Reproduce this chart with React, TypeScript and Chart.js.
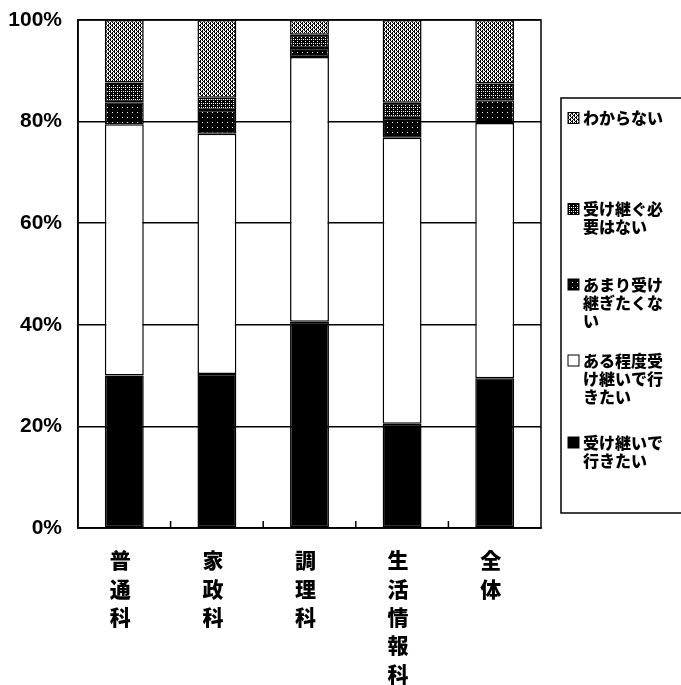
import React, { useEffect, useRef } from 'react';
import { Chart, registerables } from 'chart.js';
Chart.register(...registerables);

const categories = ['普通科', '家政科', '調理科', '生活情報科', '全体'];
const seriesNames = ['受け継いで行きたい', 'ある程度受け継いで行きたい', 'あまり受け継ぎたくない', '受け継ぐ必要はない', 'わからない'];
const ukeTsugitai = [30.0, 30.3, 40.6, 20.5, 29.5];
const aruTeido = [49.5, 47.3, 52.1, 56.3, 50.2];
const amari = [4.3, 4.7, 1.8, 3.9, 4.5];
const hitsuyouNai = [3.9, 2.4, 2.6, 3.0, 3.3];
const wakaranai = [12.3, 15.3, 2.9, 16.3, 12.5];
const yTicks = [0, 20, 40, 60, 80, 100];
const legendLabels = [
  ['わからない'],
  ['受け継ぐ必', '要はない'],
  ['あまり受け', '継ぎたくな', 'い'],
  ['ある程度受', 'け継いで行', 'きたい'],
  ['受け継いで', '行きたい'],
];

function makePattern(size: number, bg: string, fg: string, pts: number[][]) {
  const c = document.createElement('canvas');
  c.width = size;
  c.height = size;
  const x = c.getContext('2d')!;
  x.fillStyle = bg;
  x.fillRect(0, 0, size, size);
  x.fillStyle = fg;
  pts.forEach(([a, b]) => x.fillRect(a, b, 1, 1));
  return x.createPattern(c, 'repeat')!;
}

export default function App() {
  const ref = useRef<HTMLCanvasElement>(null);
  useEffect(() => {
    const ctx = ref.current!.getContext('2d')!;
    const patLight = makePattern(4, '#ffffff', '#000000', [[0, 0], [0, 1], [0, 2], [2, 0], [2, 2], [2, 3], [1, 3], [3, 1]]);
    const patMid = makePattern(4, '#000000', '#ffffff', [[1, 1], [3, 3], [1, 3]]);
    const patDark = makePattern(5, '#000000', '#ffffff', [[2, 2]]);
    const fills: any[] = ['#000000', '#ffffff', patDark, patMid, patLight];
    const values = [ukeTsugitai, aruTeido, amari, hitsuyouNai, wakaranai];

    const framePlugin = {
      id: 'frame',
      afterDraw(chart: any) {
        const c = chart.ctx;
        const a = chart.chartArea;
        c.save();
        c.strokeStyle = '#000';
        c.lineWidth = 1.5;
        c.strokeRect(a.left, a.top, a.right - a.left, a.bottom - a.top);
        const w = (a.right - a.left) / categories.length;
        c.beginPath();
        for (let i = 1; i < categories.length; i++) {
          const x = a.left + i * w;
          c.moveTo(x, a.bottom);
          c.lineTo(x, a.bottom - 7);
        }
        c.stroke();

        // legend box
        const bx = 561, by = 98, bw = 140, bh = 415;
        c.lineWidth = 1.5;
        c.strokeRect(bx, by, bw, bh);
        const firstY = [118, 209, 284.5, 360.5, 442.5];
        const order = [4, 3, 2, 1, 0];
        c.font = '900 16px "Noto Sans CJK JP"';
        c.textBaseline = 'middle';
        c.textAlign = 'left';
        order.forEach((si, k) => {
          const y0 = firstY[k];
          c.fillStyle = fills[si];
          c.fillRect(568, y0 - 5.5, 11, 11);
          c.lineWidth = 1;
          c.strokeRect(568, y0 - 5.5, 11, 11);
          c.fillStyle = '#000';
          legendLabels[k].forEach((t, j) => c.fillText(t, 583, y0 + j * 18));
        });
        c.restore();
      },
    };

    const chart = new Chart(ctx, {
      type: 'bar',
      data: {
        labels: categories,
        datasets: seriesNames.map((name, i) => ({
          label: name,
          data: values[i],
          backgroundColor: fills[i],
          borderColor: '#000',
          borderWidth: 1.5,
          borderSkipped: false,
          categoryPercentage: 1,
          barPercentage: 0.42,
        })),
      },
      options: {
        animation: false,
        responsive: true,
        maintainAspectRatio: false,
        layout: { padding: { left: 0, right: 140, top: 0, bottom: 0 } },
        plugins: { legend: { display: false }, tooltip: { enabled: false } },
        scales: {
          x: {
            stacked: true,
            grid: { display: false, drawTicks: false },
            border: { display: true, color: '#000', width: 1.5 },
            ticks: {
              color: '#000',
              padding: 18,
              labelOffset: -4,
              maxRotation: 0,
              autoSkip: false,
              font: { family: '"Noto Sans CJK JP"', size: 21, weight: '900', lineHeight: 1.35 },
              callback: (v: any, i: number) => categories[i].split(''),
            },
            afterFit: (s: any) => { s.height = 157; },
          },
          y: {
            stacked: true,
            min: 0,
            max: 100,
            afterBuildTicks: (s: any) => { s.ticks = yTicks.map((v) => ({ value: v })); },
            grid: { color: '#000', lineWidth: 1.5, drawTicks: false },
            border: { display: true, color: '#000', width: 1.5 },
            ticks: {
              color: '#000',
              padding: 16,
              font: { family: '"Liberation Sans", Arial, sans-serif', size: 21, weight: 'bold', lineHeight: 0.38 },
              callback: (v: any) => v + '%',
            },
            afterFit: (s: any) => { s.width = 78; },
          },
        },
      },
      plugins: [framePlugin],
    } as any);
    return () => chart.destroy();
  }, []);
  return (
    <div style={{ position: 'fixed', left: 0, top: 0, width: 681, height: 685, background: '#fff' }}>
      <canvas ref={ref} />
    </div>
  );
}
